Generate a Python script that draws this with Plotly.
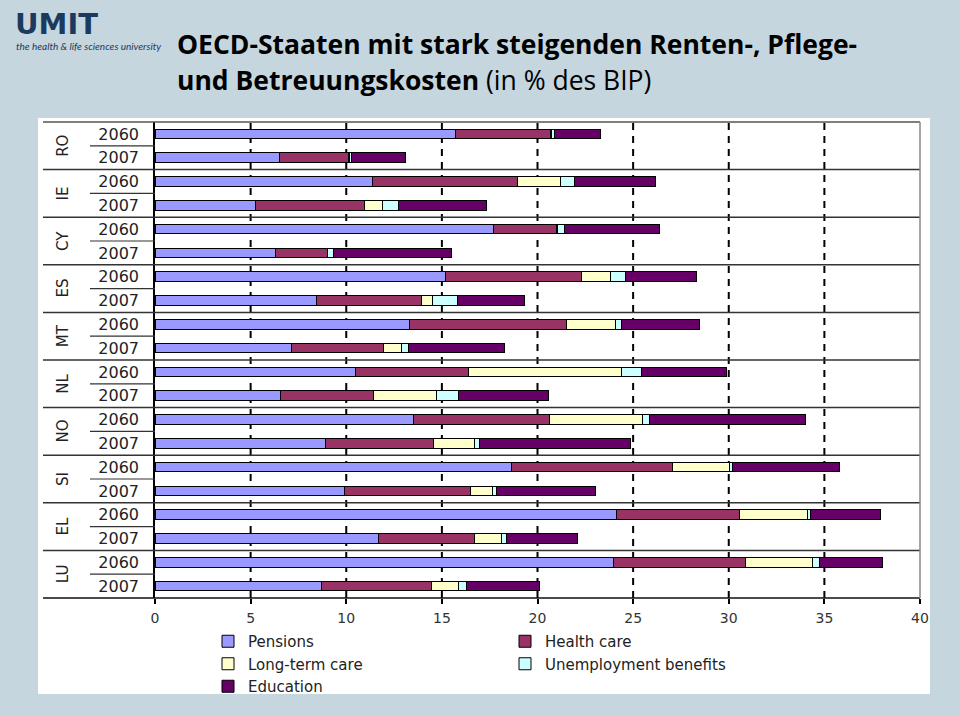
import plotly.graph_objects as go

W, H = 960, 716
# plot area in pixels
PL, PR, PT, PB = 155, 920, 122, 598

countries = ["RO", "IE", "CY", "ES", "MT", "NL", "NO", "SI", "EL", "LU"]
years = ["2060", "2007"]
row_labels = [f"{c} {y}" for c in countries for y in years]
year_ticks = [y for c in countries for y in years]

series_names = ["Pensions", "Health care", "Long-term care", "Unemployment benefits", "Education"]
series_colors = ["#9999ff", "#993366", "#ffffcc", "#ccffff", "#660066"]

# values in % of GDP, rows: RO2060, RO2007, IE2060, IE2007, ...
pensions = [15.7, 6.5, 11.35, 5.25, 17.7, 6.3, 15.2, 8.45, 13.3, 7.15,
            10.5, 6.55, 13.5, 8.9, 18.65, 9.9, 24.15, 11.7, 23.95, 8.7]
health_care = [5.0, 3.6, 7.6, 5.7, 3.3, 2.7, 7.1, 5.5, 8.2, 4.8,
               5.9, 4.9, 7.15, 5.65, 8.4, 6.6, 6.4, 5.0, 6.95, 5.75]
long_term_care = [0.05, 0.05, 2.25, 0.95, 0.02, 0.02, 1.5, 0.55, 2.6, 0.95,
                  8.0, 3.25, 4.85, 2.15, 3.0, 1.15, 3.55, 1.4, 3.5, 1.4]
unemployment = [0.12, 0.12, 0.72, 0.85, 0.37, 0.3, 0.82, 1.3, 0.3, 0.35,
                1.05, 1.15, 0.38, 0.26, 0.16, 0.18, 0.16, 0.27, 0.35, 0.45]
education = [2.4, 2.85, 4.25, 4.6, 5.0, 6.2, 3.7, 3.5, 4.05, 5.0,
             4.45, 4.7, 8.15, 7.9, 5.6, 5.2, 3.7, 3.7, 3.3, 3.8]
series_values = [pensions, health_care, long_term_care, unemployment, education]

x_ticks = [0, 5, 10, 15, 20, 25, 30, 35, 40]
grid_vals = [5, 10, 15, 20, 25, 30, 35]

def px_x(p):
    return (p - PL) / (PR - PL)

def px_y(p):
    return (PB - p) / (PB - PT)

fig = go.Figure()
for name, col, vals in zip(series_names, series_colors, series_values):
    fig.add_trace(go.Bar(
        y=row_labels, x=vals, name=name, orientation="h",
        marker=dict(color=col, line=dict(color="#000000", width=1)),
        hoverinfo="skip",
    ))

shapes = []
# white chart panel
shapes.append(dict(type="rect", xref="paper", yref="paper",
                   x0=px_x(38), x1=px_x(930), y0=px_y(694), y1=px_y(118),
                   fillcolor="#ffffff", line=dict(width=0), layer="below"))
# dashed vertical gridlines
for v in grid_vals:
    shapes.append(dict(type="line", xref="x", yref="paper", x0=v, x1=v, y0=0, y1=1,
                       line=dict(color="#000000", width=2, dash="7px,6px"), layer="below"))
# country separators
for i in range(1, len(countries)):
    yv = 2 * i - 0.5
    shapes.append(dict(type="line", xref="paper", yref="y", x0=px_x(43), x1=1, y0=yv, y1=yv,
                       line=dict(color="#333333", width=1.5), layer="above"))
# year separators in label column
for i in range(len(countries)):
    yv = 2 * i + 0.5
    shapes.append(dict(type="line", xref="paper", yref="y", x0=px_x(90), x1=0, y0=yv, y1=yv,
                       line=dict(color="#333333", width=1.2), layer="above"))
# top border, bottom axis, right border
shapes.append(dict(type="line", xref="paper", yref="paper", x0=px_x(43), x1=1, y0=1, y1=1,
                   line=dict(color="#555555", width=1.5)))
shapes.append(dict(type="line", xref="paper", yref="paper", x0=px_x(43), x1=1, y0=0, y1=0,
                   line=dict(color="#111111", width=1.5)))
shapes.append(dict(type="line", xref="paper", yref="paper", x0=1, x1=1, y0=0, y1=1,
                   line=dict(color="#888888", width=1.5)))

annotations = []
for i, c in enumerate(countries):
    annotations.append(dict(text=c, xref="paper", yref="y", x=px_x(63), y=2 * i + 0.5,
                            textangle=-90, showarrow=False, xanchor="center", yanchor="middle",
                            font=dict(family="DejaVu Sans", size=15, color="#222222")))

navy = "#1b3a5e"
annotations.append(dict(text="<b>UMIT</b>", xref="paper", yref="paper", x=px_x(13), y=px_y(23.5),
                        xanchor="left", yanchor="middle", showarrow=False,
                        font=dict(family="DejaVu Sans", size=29, color=navy)))
annotations.append(dict(text="<i>the health &amp; life sciences university</i>", xref="paper", yref="paper",
                        x=px_x(14), y=px_y(46.5), xanchor="left", yanchor="middle", showarrow=False,
                        font=dict(family="Lato", size=10, color=navy)))
annotations.append(dict(text="<b>OECD-Staaten mit stark steigenden Renten-, Pflege-</b>",
                        xref="paper", yref="paper", x=px_x(175), y=px_y(44),
                        xanchor="left", yanchor="middle", showarrow=False,
                        font=dict(family="Open Sans", size=26.5, color="#000000")))
annotations.append(dict(text="<b>und Betreuungskosten</b> (in % des BIP)",
                        xref="paper", yref="paper", x=px_x(175), y=px_y(80),
                        xanchor="left", yanchor="middle", showarrow=False,
                        font=dict(family="Open Sans", size=26.5, color="#000000")))

fig.update_layout(
    template="none",
    width=W, height=H,
    margin=dict(l=PL, r=W - PR, t=PT, b=H - PB, autoexpand=False),
    paper_bgcolor="#c5d6df",
    plot_bgcolor="#ffffff",
    barmode="stack",
    bargap=0.6,
    font=dict(family="DejaVu Sans", color="#222222"),
    xaxis=dict(range=[0, 40], tickvals=x_ticks, ticktext=[str(v) for v in x_ticks],
               showgrid=False, zeroline=False, showline=False,
               ticks="outside", ticklen=5, tickcolor="#000000", tickwidth=1.5,
               tickfont=dict(family="DejaVu Sans", size=14, color="#333333"),
               ticklabelstandoff=2),
    yaxis=dict(type="category", categoryorder="array", categoryarray=row_labels,
               range=[len(row_labels) - 0.5, -0.5],
               tickvals=row_labels, ticktext=year_ticks,
               showgrid=False, zeroline=False, showline=True, linecolor="#000000", linewidth=1.5,
               ticks="", ticklabelstandoff=11,
               tickfont=dict(family="DejaVu Sans", size=16, color="#222222")),
    legend=dict(orientation="h", x=px_x(208), y=px_y(625), xanchor="left", yanchor="top",
                entrywidth=252, entrywidthmode="pixels", traceorder="normal",
                bgcolor="rgba(0,0,0,0)", font=dict(family="DejaVu Sans", size=15, color="#222222")),
    shapes=shapes,
    annotations=annotations,
    showlegend=True,
)

fig.write_html("out.html", config={"displayModeBar": False},
               post_script="document.body.style.margin='0';document.body.style.background='#c5d6df';")
